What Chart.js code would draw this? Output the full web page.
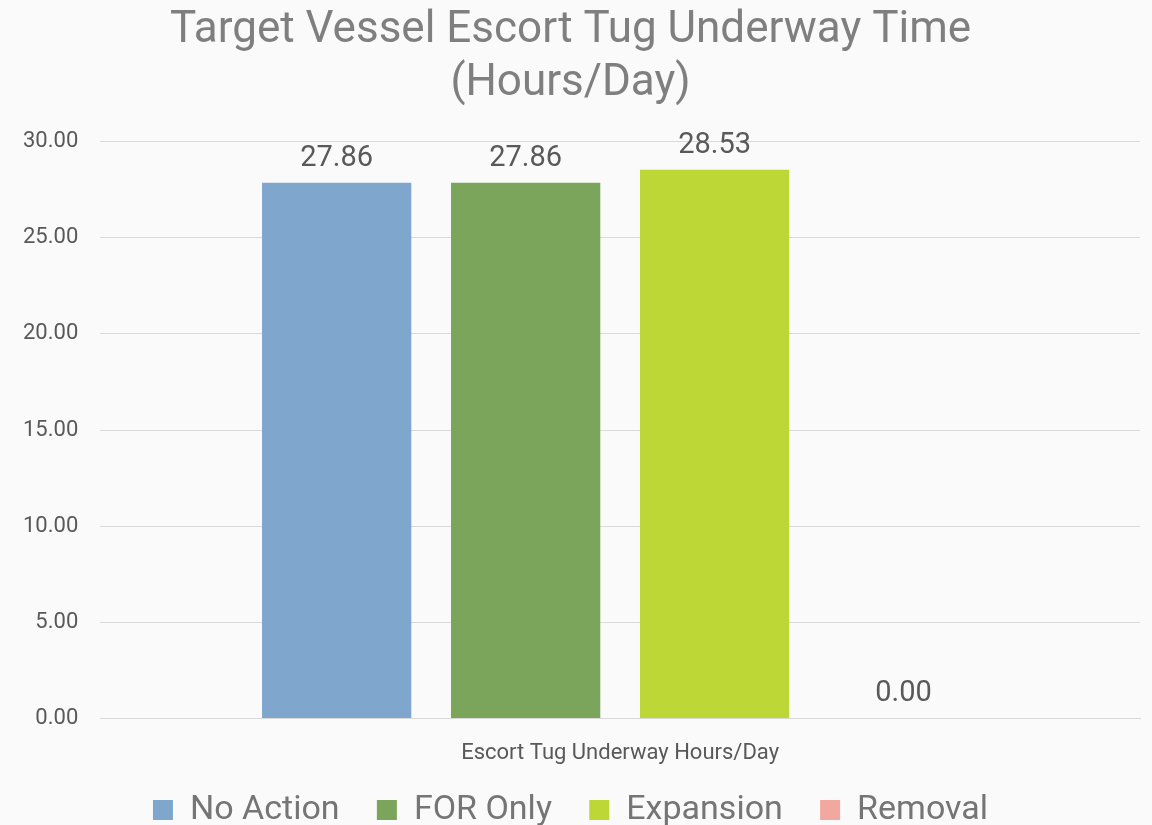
<!DOCTYPE html>
<html>
<head>
<meta charset="utf-8">
<script src="https://cdn.jsdelivr.net/npm/chart.js@4"></script>
<style>
  html, body { margin: 0; padding: 0; background: #fafafa; }
  #wrap { width: 1152px; height: 825px; }
</style>
</head>
<body>
<div id="wrap"><canvas id="chartTug"></canvas></div>
<script>
const categories = ["Escort Tug Underway Hours/Day"];
const seriesNames = ["No Action", "FOR Only", "Expansion", "Removal"];
const seriesValues = [[27.86], [27.86], [28.53], [0.00]];
const seriesColors = ["#7fa7ce", "#7aa55a", "#bdd736", "#f2a89e"];
const titleLines = ["Target Vessel Escort Tug Underway Time", "(Hours/Day)"];

const FONT = "'Roboto', sans-serif";

// value labels above bars
const valueLabels = {
  id: "valueLabels",
  afterDatasetsDraw(chart) {
    const c = chart.ctx;
    c.save();
    c.font = "29px " + FONT;
    c.fillStyle = "#595959";
    c.textAlign = "center";
    c.textBaseline = "bottom";
    chart.data.datasets.forEach((ds, i) => {
      chart.getDatasetMeta(i).data.forEach((bar, j) => {
        c.fillText(ds.data[j].toFixed(2), bar.x, bar.y - 10);
      });
    });
    c.restore();
  }
};

new Chart(document.getElementById("chartTug"), {
  type: "bar",
  data: {
    labels: categories,
    datasets: seriesNames.map((name, i) => ({
      label: name,
      data: seriesValues[i],
      backgroundColor: seriesColors[i],
      barPercentage: 0.79,
      categoryPercentage: 0.727
    }))
  },
  options: {
    responsive: true,
    maintainAspectRatio: false,
    animation: false,
    layout: { padding: { left: 1, right: 12, top: 0, bottom: -12 } },
    plugins: {
      title: {
        display: true,
        text: titleLines,
        color: "#7f7f7f",
        font: { family: FONT, size: 44, weight: "normal" },
        padding: { top: 5, bottom: 31 },
        lineHeight: 1.27
      },
      legend: {
        position: "bottom",
        labels: {
          color: "#757575",
          font: { family: FONT, size: 34 },
          boxWidth: 20,
          boxHeight: 20,
          padding: 12,
          // extra gap between legend entries, but not after the last one
          generateLabels(chart) {
            const items = Chart.defaults.plugins.legend.labels.generateLabels(chart);
            items.forEach((it, i) => {
              if (i < items.length - 1) it.text += "   ";
            });
            return items;
          }
        }
      },
      tooltip: { enabled: false }
    },
    scales: {
      x: {
        grid: { display: false },
        border: { color: "#d9d9d9" },
        ticks: { color: "#595959", font: { family: FONT, size: 22 }, padding: 14 }
      },
      y: {
        min: 0,
        max: 30,
        ticks: {
          stepSize: 5,
          color: "#595959",
          font: { family: FONT, size: 22 },
          padding: 22,
          callback: v => v.toFixed(2)
        },
        grid: { color: "#d9d9d9", drawTicks: false },
        border: { display: false }
      }
    }
  },
  plugins: [valueLabels]
});
</script>
</body>
</html>
